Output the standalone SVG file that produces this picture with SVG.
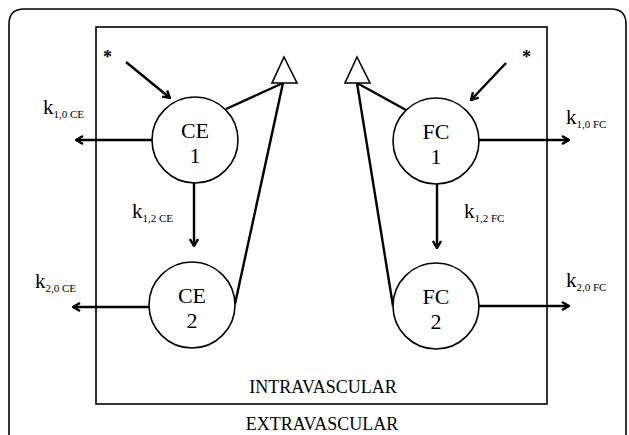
<svg xmlns="http://www.w3.org/2000/svg" width="629" height="435" viewBox="0 0 629 435">
<style>
.frame{fill:none;stroke:#000;stroke-width:1.6}
.node{fill:#fff;stroke:#000;stroke-width:1.6}
.lbl{font-family:"Liberation Serif",serif;font-size:22px;fill:#000;text-anchor:middle}
.k{font-family:"Liberation Serif",serif;font-size:21px;fill:#000}
.sub{font-size:11px}
.star{font-family:"Liberation Serif",serif;font-size:18px;font-weight:bold;fill:#000}
.region{font-family:"Liberation Serif",serif;font-size:18px;fill:#000;text-anchor:middle}
.conn{stroke:#000;stroke-width:2.4;fill:none}
.arr{stroke:#000;stroke-width:2.4;fill:none;marker-end:url(#ah)}
.tri{fill:#fff;stroke:#000;stroke-width:1.6}
</style>
<defs>
<marker id="ah" viewBox="0 0 10 10" refX="9" refY="5" markerWidth="10" markerHeight="10" markerUnits="userSpaceOnUse" orient="auto">
<path d="M2,1 L9,5 L2,9" fill="none" stroke="#000" stroke-width="2.4"/>
</marker>
</defs>
<rect width="629" height="435" fill="#fff"/>
<path class="frame" d="M9,450 L9,24 Q9,9 24,9 L611,9 Q626,9 626,24 L626,450"/>
<rect class="frame" x="96" y="27" width="451" height="377"/>
<g id="connectors">
<line class="arr" x1="126" y1="62" x2="170" y2="98"/>
<line class="arr" x1="506" y1="63" x2="471" y2="100"/>
<line class="arr" x1="152" y1="140" x2="76" y2="140"/>
<line class="arr" x1="149" y1="307" x2="73" y2="307"/>
<line class="arr" x1="479" y1="140" x2="569" y2="140"/>
<line class="arr" x1="479" y1="306" x2="569" y2="306"/>
<line class="arr" x1="194" y1="183" x2="194" y2="246"/>
<line class="arr" x1="437" y1="184" x2="437" y2="248"/>
<line class="conn" x1="226" y1="109" x2="283" y2="83"/>
<line class="conn" x1="283" y1="83" x2="235" y2="304"/>
<line class="conn" x1="357" y1="83" x2="406" y2="110"/>
<line class="conn" x1="357" y1="83" x2="393" y2="306"/>
</g>
<g id="tri-left"><polygon class="tri" points="284,57 272,83 297,83"/></g>
<g id="tri-right"><polygon class="tri" points="357,57 345,83 370,83"/></g>
<g id="CE1"><circle class="node" cx="195" cy="140" r="43"/><text class="lbl" x="195" y="138">CE</text><text class="lbl" x="195" y="163">1</text></g>
<g id="CE2"><circle class="node" cx="192" cy="305" r="43"/><text class="lbl" x="192" y="303">CE</text><text class="lbl" x="192" y="328">2</text></g>
<g id="FC1"><circle class="node" cx="436" cy="141" r="43"/><text class="lbl" x="436" y="139">FC</text><text class="lbl" x="436" y="164">1</text></g>
<g id="FC2"><circle class="node" cx="436" cy="306" r="43"/><text class="lbl" x="436" y="304">FC</text><text class="lbl" x="436" y="329">2</text></g>
<text class="k" x="43" y="114">k<tspan class="sub" dy="4">1,0 CE</tspan></text>
<text class="k" x="132" y="218">k<tspan class="sub" dy="4">1,2 CE</tspan></text>
<text class="k" x="35" y="288">k<tspan class="sub" dy="4">2,0 CE</tspan></text>
<text class="k" x="566" y="124">k<tspan class="sub" dy="4">1,0 FC</tspan></text>
<text class="k" x="464" y="218">k<tspan class="sub" dy="4">1,2 FC</tspan></text>
<text class="k" x="566" y="287">k<tspan class="sub" dy="4">2,0 FC</tspan></text>
<text class="star" x="103" y="63">*</text>
<text class="star" x="522" y="63">*</text>
<text class="region" x="323" y="393">INTRAVASCULAR</text>
<text class="region" x="322" y="430">EXTRAVASCULAR</text>
</svg>
